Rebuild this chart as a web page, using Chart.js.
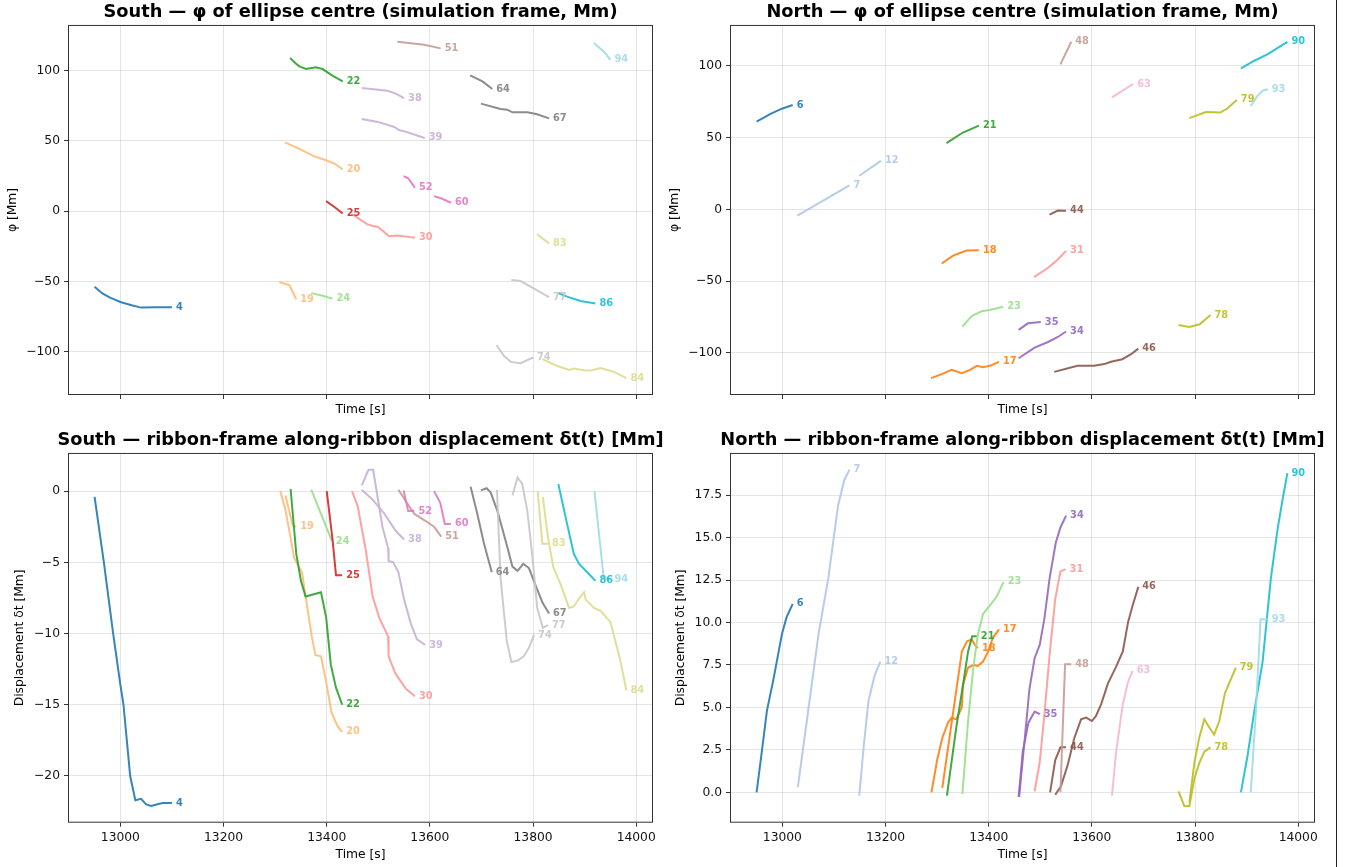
<!DOCTYPE html>
<html>
<head>
<meta charset="utf-8">
<title>Ribbon ellipse tracks</title>
<script src="https://cdn.jsdelivr.net/npm/chart.js@4.4.1/dist/chart.umd.min.js"></script>
<style>
  html, body { margin: 0; padding: 0; background: #fff; overflow: hidden; }
  #page { position: relative; width: 1349px; height: 867px; overflow: hidden; }
  #page canvas { position: absolute; }
  #edge { position: absolute; left: 1336px; top: 0; width: 1px; height: 867px; background: #222; }
</style>
</head>
<body>
<div id="page">
  <canvas id="southPhi" width="721" height="425" style="left:0;top:0"></canvas>
  <canvas id="northPhi" width="725" height="425" style="left:660px;top:0"></canvas>
  <canvas id="southDisp" width="721" height="439" style="left:0;top:428px"></canvas>
  <canvas id="northDisp" width="725" height="439" style="left:660px;top:428px"></canvas>
  <div id="edge"></div>
</div>
<script>
// ---- South tracks ----
const southIds = [4, 19, 20, 22, 24, 25, 30, 38, 39, 51, 52, 60, 64, 67, 74, 77, 83, 84, 86, 94];

// phi of ellipse centre [Mm]
const southPhiT = [
  [12950, 12965, 12980, 13000, 13020, 13040, 13070, 13100],
  [13308, 13328, 13341],
  [13319, 13347, 13376, 13399, 13415, 13431],
  [13329, 13340, 13347, 13360, 13379, 13392, 13411, 13431],
  [13370, 13390, 13411],
  [13399, 13415, 13431],
  [13450, 13465, 13479, 13490, 13499, 13510, 13521, 13537, 13555, 13571],
  [13468, 13518, 13534, 13550],
  [13468, 13499, 13531, 13541, 13554, 13590],
  [13537, 13589, 13621],
  [13549, 13558, 13571],
  [13608, 13624, 13641],
  [13678, 13702, 13721],
  [13699, 13737, 13750, 13760, 13789, 13808, 13831],
  [13729, 13744, 13757, 13776, 13800],
  [13758, 13776, 13802, 13831],
  [13808, 13831],
  [13818, 13847, 13870, 13879, 13899, 13912, 13931, 13957, 13981],
  [13848, 13866, 13892, 13921],
  [13918, 13937, 13950]
];
const southPhi = [
  [-53.7, -58.5, -61.5, -64.6, -66.8, -68.6, -68.4, -68.4],
  [-50.4, -52.8, -62.7],
  [49, 44.3, 39, 36.2, 33.9, 29.6],
  [109, 105, 103, 101.1, 102.3, 101.1, 96.4, 92.3],
  [-58.3, -60, -62.2],
  [7.1, 3, -1.6],
  [-2.3, -6, -9.4, -10.6, -11.1, -14.5, -17.8, -17.3, -18.1, -18.9],
  [87.6, 85.7, 83.6, 80.5],
  [65.6, 63.5, 59.9, 57.5, 56.4, 52.1],
  [120.5, 118.4, 115.8],
  [24.9, 23.4, 16.6],
  [10.7, 8.8, 6],
  [96.6, 92.3, 86.9],
  [76.5, 72.7, 72.2, 70.3, 70.3, 68.9, 66],
  [-95.2, -103, -107.2, -108.2, -104.1],
  [-49, -49.7, -55.1, -61.1],
  [-16.5, -22.9],
  [-105.3, -110.1, -112.9, -111.9, -113.1, -113.4, -111.5, -114.3, -118.8],
  [-58, -60.8, -63.9, -65.6],
  [119.6, 113.6, 107.7]
];

// along-ribbon displacement dt [Mm]
const southDispT = [
  [12950, 12968, 12986, 13000, 13006, 13019, 13029, 13040, 13050, 13060, 13070, 13082, 13100],
  [13320, 13334, 13341],
  [13310, 13320, 13330, 13337, 13352, 13371, 13378, 13389, 13400, 13409, 13421, 13430],
  [13330, 13341, 13350, 13359, 13389, 13399, 13408, 13418, 13430],
  [13370, 13410],
  [13400, 13411, 13418, 13430],
  [13449, 13460, 13476, 13489, 13502, 13519, 13520, 13533, 13554, 13571],
  [13468, 13489, 13512, 13534, 13550],
  [13468, 13481, 13490, 13499, 13508, 13519, 13520, 13529, 13539, 13550, 13563, 13575, 13591],
  [13539, 13557, 13570, 13592, 13608, 13622],
  [13549, 13558, 13570],
  [13608, 13620, 13629, 13641],
  [13679, 13692, 13705, 13720],
  [13699, 13710, 13718, 13731, 13747, 13760, 13770, 13781, 13792, 13808, 13818, 13831],
  [13730, 13737, 13749, 13758, 13770, 13782, 13792, 13802],
  [13760, 13770, 13779, 13789, 13799, 13808, 13819, 13829],
  [13809, 13818, 13829],
  [13819, 13828, 13839, 13854, 13870, 13879, 13892, 13899, 13902, 13918, 13931, 13950, 13968, 13981],
  [13849, 13866, 13879, 13889, 13905, 13921],
  [13919, 13937, 13950]
];
const southDisp = [
  [-0.4, -5, -10, -13.6, -15, -20, -21.7, -21.6, -22.0, -22.1, -22.0, -21.9, -21.9],
  [-0.3, -2.4, -2.5],
  [0, -1.3, -3.3, -4.7, -5.7, -10.2, -11.5, -11.6, -13.6, -15.5, -16.5, -16.9],
  [0.15, -4.4, -6.3, -7.4, -7.1, -8.9, -12.2, -13.8, -15.0],
  [0.1, -3.5],
  [0, -3.3, -5.9, -5.9],
  [0, -1.05, -4.2, -7.4, -8.9, -10.2, -11.6, -12.8, -13.9, -14.4],
  [0.1, -0.6, -1.6, -2.8, -3.4],
  [0.4, 1.5, 1.5, -0.5, -2.5, -4.0, -4.9, -5.0, -5.7, -7.6, -9.3, -10.4, -10.8],
  [0.1, -0.9, -1.6, -2.1, -2.5, -3.2],
  [0.05, -1.4, -1.4],
  [0, -0.8, -2.3, -2.3],
  [0.3, -1.6, -3.7, -5.7],
  [0.05, 0.2, -0.1, -1.4, -3.5, -5.3, -5.6, -5.1, -5.4, -6.9, -7.8, -8.6],
  [0.1, -6.1, -10.5, -12, -11.9, -11.6, -11, -10.1],
  [-0.3, 0.95, 0.5, -1.4, -4.7, -8.2, -9.6, -9.4],
  [0, -3.7, -3.7],
  [-0.4, -3.0, -5.3, -6.6, -8.2, -8.1, -7.4, -7.1, -7.6, -8.2, -8.4, -9.2, -11.7, -14.0],
  [0.5, -2.3, -4.4, -5.1, -5.7, -6.3],
  [0, -6.1, -6.2]
];

// ---- North tracks ----
const northIds = [6, 7, 12, 17, 18, 21, 23, 31, 34, 35, 44, 46, 48, 63, 78, 79, 90, 93];

const northPhiT = [
  [12950, 12977, 12999, 13020],
  [13029, 13080, 13130],
  [13149, 13191],
  [13288, 13309, 13328, 13348, 13363, 13377, 13389, 13402, 13420],
  [13309, 13331, 13357, 13381],
  [13318, 13350, 13381],
  [13349, 13367, 13386, 13402, 13428],
  [13488, 13515, 13534, 13550],
  [13458, 13489, 13515, 13534, 13550],
  [13458, 13476, 13501],
  [13518, 13534, 13550],
  [13527, 13552, 13572, 13604, 13624, 13637, 13659, 13676, 13690],
  [13539, 13560],
  [13639, 13680],
  [13768, 13789, 13809, 13830],
  [13789, 13821, 13849, 13863, 13881],
  [13889, 13915, 13941, 13979],
  [13908, 13921, 13931, 13941]
];
const northPhi = [
  [61.1, 66.5, 70.1, 72.7],
  [-4.4, 6.2, 16.7],
  [23.4, 33.8],
  [-117.6, -114.8, -111.8, -114.1, -112, -109, -109.9, -109, -106.2],
  [-37.7, -32.2, -28.7, -28.5],
  [46.1, 53.5, 58.3],
  [-81.7, -74.3, -71, -70.1, -67.8],
  [-47.2, -40.7, -34.9, -28.9],
  [-103.7, -96.3, -92.4, -88.9, -85.1],
  [-84, -79.4, -78.5],
  [-3.7, -0.9, -1],
  [-113.2, -110.8, -109, -109, -107.8, -106.2, -104.4, -100.9, -97],
  [101, 116.7],
  [78, 87.3],
  [-80.5, -81.9, -80.1, -73.6],
  [63.5, 67.8, 67.4, 70.4, 76.2],
  [98.2, 103.5, 108.1, 116.7],
  [72, 79, 82.6, 83.6]
];

const northDispT = [
  [12950, 12961, 12970, 12983, 12999, 13008, 13020],
  [13030, 13050, 13070, 13089, 13108, 13120, 13130],
  [13149, 13158, 13167, 13179, 13190],
  [13289, 13300, 13310, 13321, 13328, 13337, 13348, 13350, 13360, 13370, 13379, 13389, 13399, 13408, 13420],
  [13310, 13348, 13358, 13367, 13373, 13379],
  [13319, 13337, 13350, 13360, 13368, 13377],
  [13349, 13360, 13370, 13379, 13389, 13402, 13415, 13429],
  [13489, 13499, 13508, 13518, 13529, 13539, 13549],
  [13459, 13470, 13479, 13489, 13499, 13508, 13518, 13530, 13539, 13550],
  [13458, 13466, 13477, 13489, 13499],
  [13519, 13529, 13539, 13550],
  [13529, 13540, 13553, 13566, 13579, 13589, 13600, 13608, 13618, 13631, 13647, 13660, 13670, 13679, 13690],
  [13539, 13548, 13560],
  [13639, 13647, 13660, 13670, 13679],
  [13768, 13779, 13789, 13799, 13808, 13818, 13830],
  [13789, 13799, 13808, 13818, 13828, 13837, 13847, 13858, 13870, 13879],
  [13889, 13902, 13915, 13931, 13947, 13960, 13970, 13979],
  [13908, 13918, 13927, 13941]
];
const northDisp = [
  [0, 2.6, 4.8, 6.7, 9.3, 10.3, 11.1],
  [0.3, 4.8, 9.3, 12.6, 16.9, 18.4, 19.0],
  [-0.2, 2.8, 5.4, 6.9, 7.7],
  [0, 1.9, 3.2, 4.1, 4.4, 4.3, 5.0, 6.3, 7.35, 7.5, 7.45, 7.7, 8.3, 9.1, 9.6],
  [0.26, 8.3, 8.9, 9.0, 8.7, 8.5],
  [-0.2, 3.8, 6.3, 8.3, 9.2, 9.2],
  [-0.1, 4.2, 7.3, 9.3, 10.5, 11.0, 11.5, 12.4],
  [0.06, 1.8, 4.6, 8.1, 11.4, 13.0, 13.15],
  [-0.27, 3.2, 6.1, 7.9, 8.7, 10.25, 12.6, 14.7, 15.6, 16.3],
  [-0.27, 2.4, 4.1, 4.76, 4.6],
  [0, 1.9, 2.65, 2.65],
  [-0.14, 0.35, 1.6, 3.2, 4.3, 4.4, 4.2, 4.5, 5.2, 6.4, 7.4, 8.3, 10.0, 11.0, 12.1],
  [0, 7.55, 7.55],
  [-0.2, 2.4, 5.2, 6.5, 7.15],
  [0.06, -0.8, -0.8, 0.85, 1.7, 2.4, 2.65],
  [-0.6, 1.8, 3.2, 4.3, 3.8, 3.4, 4.2, 5.85, 6.7, 7.35],
  [0, 2.2, 4.8, 7.7, 12.6, 15.5, 17.3, 18.8],
  [0, 4.8, 10.2, 10.2]
];

// tab20 colours per track
const southColors = ['#1f77b4', '#ffbb78', '#ffbb78', '#2ca02c', '#98df8a', '#d62728', '#ff9896',
  '#c5b0d5', '#c5b0d5', '#c49c94', '#e377c2', '#e377c2', '#7f7f7f', '#7f7f7f', '#c7c7c7', '#c7c7c7',
  '#dbdb8d', '#dbdb8d', '#17becf', '#9edae5'];
const northColors = ['#1f77b4', '#aec7e8', '#aec7e8', '#ff7f0e', '#ff7f0e', '#2ca02c', '#98df8a',
  '#ff9896', '#9467bd', '#9467bd', '#8c564b', '#8c564b', '#c49c94', '#f7b6d2', '#bcbd22', '#bcbd22',
  '#17becf', '#9edae5'];

const FONT = '"DejaVu Sans", "Liberation Sans", sans-serif';
Chart.defaults.font.family = FONT;
Chart.defaults.color = '#111';

// autoscale like matplotlib: 5% margin either side
function paddedRange(arrays) {
  const all = arrays.flat();
  const lo = Math.min(...all), hi = Math.max(...all);
  const m = (hi - lo) * 0.05;
  return [lo - m, hi + m];
}
const xRange = paddedRange([southPhiT, southDispT, northPhiT, northDispT].flat());

const minusFmt = (v, digits) => {
  const s = digits ? Math.abs(v).toFixed(digits) : String(Math.abs(Math.round(v)));
  return v < 0 ? '\u2212' + s : s;
};

// axes frame on all four sides
const frame = {
  id: 'frame',
  afterDraw(chart) {
    const { ctx, chartArea: a } = chart;
    ctx.save();
    ctx.strokeStyle = '#333';
    ctx.lineWidth = 1;
    ctx.strokeRect(a.left + 0.5, a.top + 0.5, a.right - a.left - 1, a.bottom - a.top - 1);
    ctx.restore();
  }
};

// track id written just past the last point of each line
const endLabels = {
  id: 'endLabels',
  afterDatasetsDraw(chart) {
    const { ctx, scales: { x, y } } = chart;
    ctx.save();
    ctx.font = 'bold 9.8px ' + FONT;
    ctx.textBaseline = 'middle';
    ctx.textAlign = 'left';
    chart.data.datasets.forEach(ds => {
      const last = ds.data[ds.data.length - 1];
      ctx.fillStyle = ds.borderColor;
      ctx.fillText(ds.label, x.getPixelForValue(last.x) + 4, y.getPixelForValue(last.y));
    });
    ctx.restore();
  }
};

function makeChart(canvasId, cfg) {
  const datasets = cfg.ids.map((id, i) => ({
    label: String(id),
    data: cfg.t[i].map((tv, k) => ({ x: tv, y: cfg.v[i][k] })),
    borderColor: cfg.colors[i] + 'e6',
    borderWidth: 2,
    pointRadius: 0,
    tension: 0,
    fill: false,
    order: -i
  }));
  const yRange = paddedRange(cfg.v);
  return new Chart(document.getElementById(canvasId), {
    type: 'line',
    data: { datasets },
    plugins: [frame, endLabels],
    options: {
      responsive: false,
      animation: false,
      layout: { padding: 0 },
      plugins: {
        legend: { display: false },
        tooltip: { enabled: false },
        title: {
          display: true,
          text: cfg.title,
          color: '#000',
          font: { size: 17.8, weight: 'bold', family: FONT },
          padding: { top: 1.5, bottom: 2.1 }
        }
      },
      scales: {
        x: {
          type: 'linear',
          min: xRange[0],
          max: xRange[1],
          afterFit: s => { s.height = cfg.xHeight; },
          border: { display: false },
          grid: { color: 'rgba(0,0,0,0.1)', tickColor: '#333', tickLength: 4 },
          ticks: {
            display: cfg.showX,
            stepSize: 200,
            includeBounds: false,
            padding: 4,
            maxRotation: 0,
            color: '#111',
            font: { size: 12.3 },
            callback: v => String(v)
          },
          title: {
            display: true,
            text: 'Time [s]',
            color: '#000',
            font: { size: 12.3 },
            padding: { top: 0, bottom: cfg.xTitlePad }
          }
        },
        y: {
          min: yRange[0],
          max: yRange[1],
          afterFit: s => { s.width = cfg.yWidth; },
          border: { display: false },
          grid: { color: 'rgba(0,0,0,0.1)', tickColor: '#333', tickLength: 4 },
          ticks: {
            stepSize: cfg.yStep,
            includeBounds: false,
            padding: 4,
            color: '#111',
            font: { size: 12.3 },
            callback: v => minusFmt(v, cfg.yDigits)
          },
          title: {
            display: true,
            text: cfg.yLabel,
            color: '#000',
            font: { size: 12.3 },
            padding: { top: cfg.yTitlePad, bottom: 0 }
          }
        },
        // empty right-hand axis, same width as the left one, keeps the title centred on the plot
        yBalance: {
          position: 'right',
          min: 0,
          max: 1,
          afterFit: s => { s.width = cfg.yWidth; },
          border: { display: false },
          grid: { display: false },
          ticks: { display: false }
        }
      }
    }
  });
}

makeChart('southPhi', {
  ids: southIds, t: southPhiT, v: southPhi, colors: southColors,
  title: 'South \u2014 \u03c6 of ellipse centre (simulation frame, Mm)',
  yLabel: '\u03c6 [Mm]', yStep: 50, yDigits: 0,
  yWidth: 68, xHeight: 30, showX: false, xTitlePad: 7.6, yTitlePad: 5.1
});
makeChart('northPhi', {
  ids: northIds, t: northPhiT, v: northPhi, colors: northColors,
  title: 'North \u2014 \u03c6 of ellipse centre (simulation frame, Mm)',
  yLabel: '\u03c6 [Mm]', yStep: 50, yDigits: 0,
  yWidth: 70, xHeight: 30, showX: false, xTitlePad: 7.6, yTitlePad: 7.1
});
makeChart('southDisp', {
  ids: southIds, t: southDispT, v: southDisp, colors: southColors,
  title: 'South \u2014 ribbon-frame along-ribbon displacement \u03b4t(t) [Mm]',
  yLabel: 'Displacement \u03b4t [Mm]', yStep: 5, yDigits: 0,
  yWidth: 68, xHeight: 44.3, showX: true, xTitlePad: 4.6, yTitlePad: 12.6
});
makeChart('northDisp', {
  ids: northIds, t: northDispT, v: northDisp, colors: northColors,
  title: 'North \u2014 ribbon-frame along-ribbon displacement \u03b4t(t) [Mm]',
  yLabel: 'Displacement \u03b4t [Mm]', yStep: 2.5, yDigits: 1,
  yWidth: 70, xHeight: 44.3, showX: true, xTitlePad: 4.6, yTitlePad: 13.6
});
</script>
</body>
</html>
